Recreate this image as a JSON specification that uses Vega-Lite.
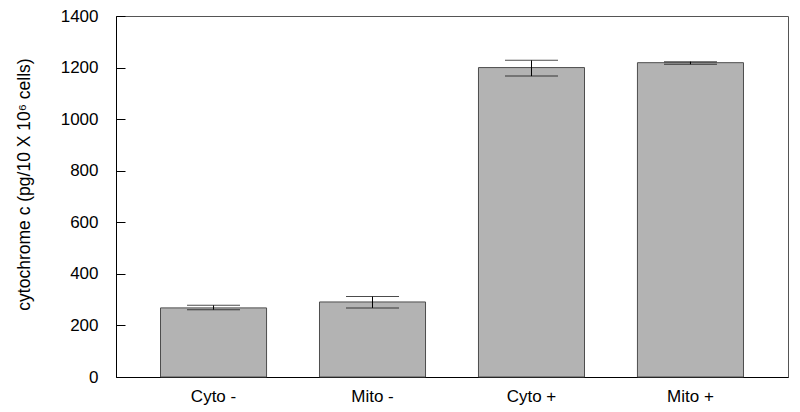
{
  "$schema": "https://vega.github.io/schema/vega-lite/v6.json",
  "width": 672,
  "height": 361,
  "autosize": {"type": "none"},
  "padding": {"left": 116, "top": 16, "right": 12, "bottom": 35},
  "background": "white",
  "config": {
    "font": "Liberation Sans",
    "view": {"stroke": "#555", "strokeWidth": 1}
  },
  "data": {
    "values": [
      {"group": "Cyto -", "value": 268, "low": 261, "high": 278},
      {"group": "Mito -", "value": 291, "low": 268, "high": 312},
      {"group": "Cyto +", "value": 1200, "low": 1167, "high": 1228},
      {"group": "Mito +", "value": 1219, "low": 1213, "high": 1223}
    ]
  },
  "encoding": {
    "x": {
      "field": "group",
      "type": "nominal",
      "sort": null,
      "scale": {"paddingInner": 0.333, "paddingOuter": 0.28},
      "axis": {
        "title": null,
        "labelAngle": 0,
        "ticks": false,
        "domain": true,
        "domainColor": "#000",
        "labelFontSize": 17,
        "labelColor": "#000",
        "labelPadding": 11
      }
    }
  },
  "layer": [
    {
      "mark": {"type": "bar", "fill": "#b3b3b3", "stroke": "#4d4d4d", "strokeWidth": 1},
      "encoding": {
        "y": {
          "field": "value",
          "type": "quantitative",
          "scale": {"domain": [0, 1400], "nice": false},
          "axis": {
            "title": "cytochrome c (pg/10 X 10⁶ cells)",
            "titleFontSize": 17.5,
            "titleFontWeight": "normal",
            "titleColor": "#000",
            "titlePadding": 27,
            "titleY": 168,
            "format": "d",
            "values": [0, 200, 400, 600, 800, 1000, 1200, 1400],
            "grid": false,
            "domainColor": "#000",
            "tickColor": "#000",
            "tickSize": -9,
            "labelPadding": 27,
            "labelFontSize": 17,
            "labelColor": "#000"
          }
        }
      }
    },
    {
      "mark": {"type": "rule", "color": "#000", "strokeWidth": 1},
      "encoding": {
        "y": {"field": "low", "type": "quantitative"},
        "y2": {"field": "high"}
      }
    },
    {
      "mark": {"type": "tick", "color": "#000", "thickness": 1, "size": 53},
      "encoding": {"y": {"field": "low", "type": "quantitative"}}
    },
    {
      "mark": {"type": "tick", "color": "#000", "thickness": 1, "size": 53},
      "encoding": {"y": {"field": "high", "type": "quantitative"}}
    }
  ]
}
